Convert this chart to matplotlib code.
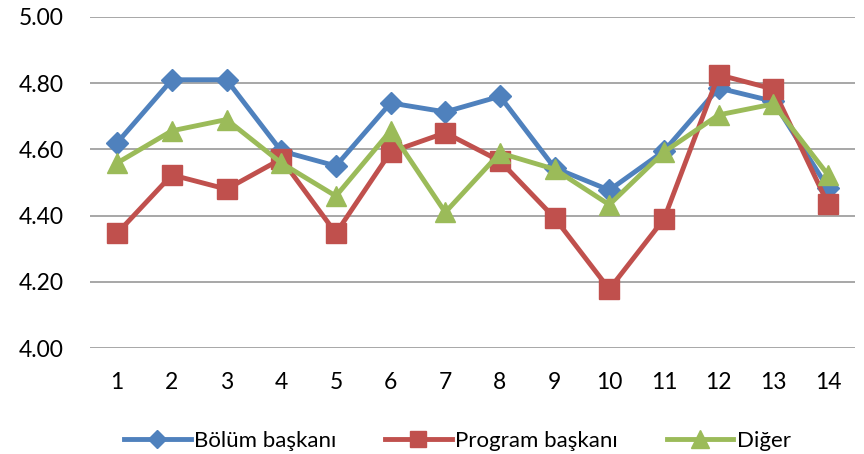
import matplotlib; matplotlib.use("Agg")
import matplotlib.pyplot as plt

x = list(range(1, 15))
bolum = [4.62, 4.81, 4.81, 4.595, 4.55, 4.74, 4.713, 4.76, 4.544, 4.477, 4.595, 4.785, 4.745, 4.483]
program = [4.347, 4.523, 4.48, 4.571, 4.347, 4.592, 4.65, 4.565, 4.393, 4.178, 4.39, 4.825, 4.782, 4.435]
diger = [4.559, 4.656, 4.69, 4.559, 4.459, 4.656, 4.41, 4.589, 4.54, 4.433, 4.592, 4.704, 4.737, 4.523]
yticks = [4.00, 4.20, 4.40, 4.60, 4.80, 5.00]

plt.rcParams["font.family"] = ["Lato", "DejaVu Sans"]
fig = plt.figure(figsize=(8.64, 4.54), dpi=100)
ax = fig.add_axes([0.104, 0.233, 0.886, 0.73])

ax.plot(x, bolum, color="#4F81BD", lw=3.5, marker="D", ms=11, label="Bölüm başkanı", zorder=3)
ax.plot(x, program, color="#C0504D", lw=3.5, marker="s", ms=14, label="Program başkanı", zorder=4)
ax.plot(x, diger, color="#9BBB59", lw=3.5, marker="^", ms=15, label="Diğer", zorder=5)

ax.set_xlim(0.5, 14.5)
ax.set_ylim(4.0, 5.0)
ax.set_yticks(yticks)
ax.set_yticklabels([f"{v:.2f}" for v in yticks])
ax.set_xticks(x)
ax.yaxis.grid(True, color="#A0A0A0", lw=1.3)
ax.set_axisbelow(True)
for s in ax.spines.values():
    s.set_visible(False)
ax.tick_params(length=0, labelsize=16.5)
ax.tick_params(axis="x", pad=17)
ax.tick_params(axis="y", pad=19)

ax.legend(loc="upper center", bbox_to_anchor=(0.48, -0.19), ncol=3, frameon=False,
          fontsize=16, handlelength=3.0, columnspacing=2.2, handletextpad=0.15,
          markerscale=0.85)

fig.savefig("out.png", dpi=100)
